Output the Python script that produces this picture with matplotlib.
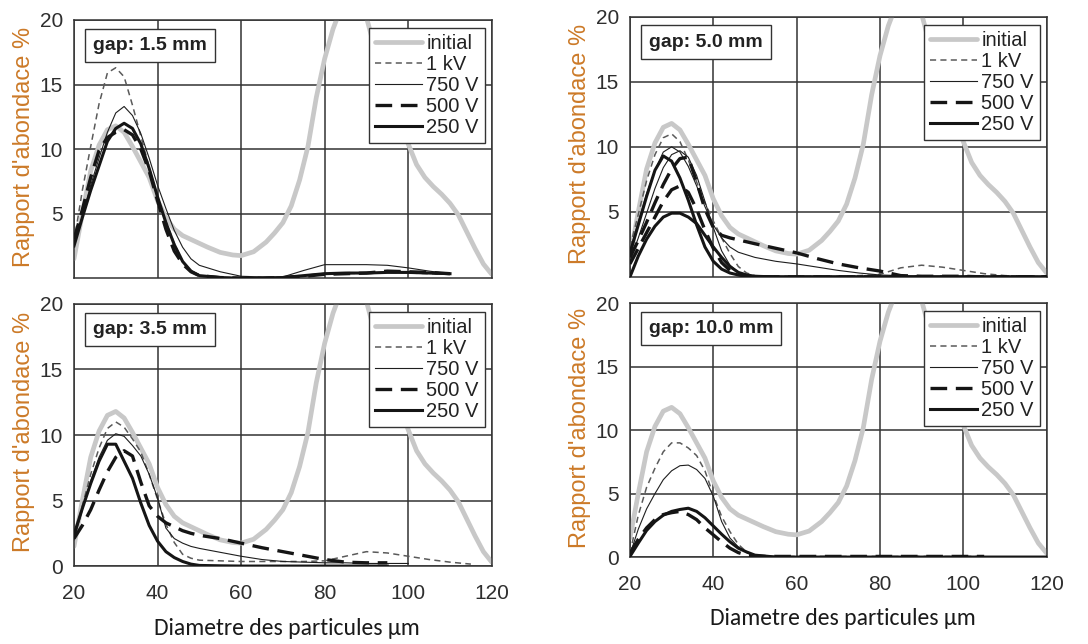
import numpy as np
import matplotlib
matplotlib.use("Agg")
import matplotlib.pyplot as plt

nan = np.nan

# particle diameter grid (µm) shared by the voltage curves
x_grid = [20, 22, 24, 26, 28, 30, 32, 34, 36, 38, 40, 42, 44, 46, 48, 50,
          55, 60, 65, 70, 75, 80, 85, 90, 95, 100, 105, 110, 115, 120]

# initial powder distribution (same in every panel)
x_init = [20, 22, 24, 26, 28, 30, 32, 34, 36, 38, 40, 42, 44, 46, 48, 50, 52, 55,
          58, 60, 63, 66, 68, 70, 72, 74, 76, 78, 80, 82, 84, 86, 88, 90, 92, 94,
          96, 98, 100, 102, 104, 106, 108, 110, 112, 114, 116, 118, 120]
y_init = [1.5, 5.0, 8.3, 10.3, 11.5, 11.8, 11.3, 10.2, 9.0, 7.8, 6.0, 4.7, 3.8, 3.3,
          3.0, 2.7, 2.4, 2.0, 1.8, 1.75, 2.05, 2.8, 3.5, 4.3, 5.6, 7.6, 10.2, 14.0,
          17.0, 19.3, 21.0, 22.0, 21.8, 20.2, 17.8, 15.8, 14.0, 12.2, 10.4, 8.8,
          7.8, 7.1, 6.5, 5.8, 4.9, 3.6, 2.3, 1.1, 0.3]

z16 = [0.0] * 14

# gap 1.5 mm
g15_1kv = [2.8, 6.8, 10.2, 13.5, 15.9, 16.3, 15.6, 13.4, 11.0, 8.6, 6.2, 4.4, 2.7, 1.3, 0.5, 0.2,
           0.05, 0.05, 0.05, 0.1, 0.2, 0.3, 0.35, 0.4, 0.45, 0.4, 0.35, 0.3, nan, nan]
g15_750 = [2.6, 4.8, 7.2, 9.3, 11.3, 12.8, 13.3, 12.6, 11.2, 9.3, 7.2, 5.4, 3.7, 2.4, 1.5, 1.0,
           0.5, 0.15, 0.1, 0.1, 0.6, 1.05, 1.05, 1.05, 1.0, 0.8, 0.55, 0.35, nan, nan]
g15_500 = [3.0, 5.3, 7.8, 9.9, 10.9, 11.3, 11.5, 11.1, 10.0, 8.3, 6.0, 3.8, 2.1, 1.1, 0.5, 0.2,
           0.05, 0.0, 0.0, 0.05, 0.15, 0.3, 0.35, 0.4, 0.55, 0.5, 0.45, 0.35, nan, nan]
g15_250 = [2.5, 4.7, 6.8, 8.7, 10.6, 11.6, 12.0, 11.6, 10.4, 8.5, 6.3, 4.3, 2.6, 1.3, 0.55, 0.2,
           0.05, 0.0, 0.0, 0.05, 0.2, 0.35, 0.4, 0.4, 0.45, 0.45, 0.4, 0.35, nan, nan]

# gap 5.0 mm (two runs for some voltages)
g50_1kv = [2.3, 4.8, 7.4, 9.4, 10.7, 11.0, 10.4, 9.0, 7.3, 5.7, 4.3, 3.0, 1.8, 0.8, 0.3, 0.1,
           0.05, 0.05, 0.05, 0.05, 0.1, 0.2, 0.7, 0.9, 0.75, 0.5, 0.25, 0.1, 0.05, 0.0]
g50_750a = [2.0, 4.2, 6.4, 8.2, 9.6, 10.0, 9.6, 8.5, 7.0, 5.4, 4.0, 3.0, 2.3, 1.9, 1.7, 1.5,
            1.2, 1.0, 0.75, 0.5, 0.3, 0.15, 0.1, 0.05, 0.05, 0.05, 0.0, 0.0, 0.0, 0.0]
g50_750b = [1.2, 3.0, 4.9, 6.8, 8.4, 9.4, 9.7, 9.2, 7.8, 5.8, 3.8, 2.0, 0.9, 0.35, 0.1, 0.05] + z16
g50_500a = [1.5, 2.8, 4.2, 5.7, 7.1, 8.3, 9.1, 9.2, 7.3, 5.2, 3.8, 3.2, 3.0, 2.85, 2.7, 2.55,
            2.2, 1.85, 1.4, 1.0, 0.7, 0.45, 0.1, 0.05, 0.05, 0.05, 0.0, 0.0, 0.0, 0.0]
g50_500b = [1.0, 2.2, 3.4, 4.6, 5.8, 6.7, 7.0, 6.5, 5.2, 3.6, 2.2, 1.1, 0.5, 0.2, 0.05, 0.0] + z16
g50_250a = [1.8, 4.0, 6.2, 8.2, 9.3, 8.9, 7.6, 5.9, 4.0, 2.3, 1.2, 0.6, 0.3, 0.15, 0.05, 0.0] + z16
g50_250b = [0.0, 1.6, 2.9, 3.9, 4.6, 4.9, 4.9, 4.6, 4.1, 3.2, 2.3, 1.5, 0.8, 0.35, 0.15, 0.05] + z16

# gap 3.5 mm
g35_1kv = [2.2, 4.6, 7.0, 9.0, 10.5, 11.0, 10.6, 9.7, 8.7, 7.0, 5.1, 3.2, 1.8, 0.9, 0.6, 0.45,
           0.4, 0.35, 0.35, 0.35, 0.35, 0.4, 0.75, 1.1, 1.0, 0.75, 0.5, 0.3, 0.15, nan]
g35_750 = [2.0, 4.3, 6.5, 8.3, 9.6, 10.1, 9.9, 9.2, 8.4, 7.0, 5.2, 2.9, 2.1, 1.75, 1.5, 1.35,
           1.05, 0.75, 0.5, 0.35, 0.3, 0.25, 0.25, 0.2, 0.2, 0.2, nan, nan, nan, nan]
g35_500 = [2.1, 3.1, 4.3, 5.8, 7.2, 8.3, 8.8, 8.4, 6.4, 4.6, 3.8, 3.3, 3.0, 2.7, 2.5, 2.35,
           2.1, 1.75, 1.4, 1.1, 0.8, 0.5, 0.3, 0.25, 0.25, nan, nan, nan, nan, nan]
g35_250 = [2.4, 4.4, 6.3, 8.0, 9.3, 9.3, 8.0, 6.7, 4.8, 3.1, 1.9, 1.1, 0.65, 0.35, 0.15, 0.05,
           0.02, 0.0, 0.0, 0.0, 0.0, 0.0, 0.0, 0.0, 0.0, nan, nan, nan, nan, nan]

# gap 10.0 mm
g100_1kv = [0.3, 3.3, 5.5, 7.0, 8.3, 9.0, 9.0, 8.6, 8.0, 6.8, 4.9, 3.2, 2.0, 1.0, 0.4, 0.15,
            0.05, 0.05, 0.05, 0.05, 0.05, 0.05, 0.05, 0.05, 0.05, 0.05, 0.05, nan, nan, nan]
g100_750 = [0.2, 2.2, 3.8, 5.0, 6.1, 6.8, 7.2, 7.25, 6.9, 6.2, 4.8, 2.8, 1.5, 0.8, 0.35, 0.1] + z16
g100_500 = [0.3, 1.4, 2.3, 2.95, 3.35, 3.5, 3.6, 3.35, 2.95, 2.3, 1.75, 1.2, 0.7, 0.35, 0.15, 0.05,
            0.05, 0.05, 0.05, 0.05, 0.05, 0.05, 0.05, 0.05, 0.05, 0.05, 0.05, nan, nan, nan]
g100_250 = [0.05, 1.1, 2.1, 2.8, 3.3, 3.6, 3.75, 3.85, 3.6, 3.1, 2.45, 1.8, 1.2, 0.7, 0.4, 0.15] + z16

labels = ["1 kV", "750 V", "500 V", "250 V"]

# line styles per voltage
styles = {
    "1 kV": dict(color="#5a5a5a", lw=1.1, ls=(0, (4.0, 2.8))),
    "750 V": dict(color="#1e1e1e", lw=0.8, ls="-"),
    "500 V": dict(color="#151515", lw=2.4, ls=(0, (5.0, 2.6))),
    "250 V": dict(color="#151515", lw=2.2, ls="-"),
}

panels = [
    ("gap: 1.5 mm", [0.068, 0.568, 0.384, 0.401], False,
     {"1 kV": [g15_1kv], "750 V": [g15_750], "500 V": [g15_500], "250 V": [g15_250]}),
    ("gap: 5.0 mm", [0.579, 0.570, 0.383, 0.404], False,
     {"1 kV": [g50_1kv], "750 V": [g50_750a, g50_750b], "500 V": [g50_500a, g50_500b],
      "250 V": [g50_250a, g50_250b]}),
    ("gap: 3.5 mm", [0.068, 0.121, 0.384, 0.407], True,
     {"1 kV": [g35_1kv], "750 V": [g35_750], "500 V": [g35_500], "250 V": [g35_250]}),
    ("gap: 10.0 mm", [0.579, 0.135, 0.383, 0.394], True,
     {"1 kV": [g100_1kv], "750 V": [g100_750], "500 V": [g100_500], "250 V": [g100_250]}),
]

tick_font = ["Liberation Sans Narrow", "Liberation Sans", "DejaVu Sans"]
grid_col = "#333333"

fig = plt.figure(figsize=(10.88, 6.44), dpi=100)

for title, rect, bottom_row, series in panels:
    ax = fig.add_axes(rect)
    ax.set_axisbelow(True)
    ax.plot(x_init, y_init, color="#c8c8c8", lw=3.4, solid_capstyle="round", label="initial", zorder=2)
    for lab in labels:
        for i, yv in enumerate(series[lab]):
            ax.plot(x_grid, yv, label=lab if i == 0 else None, zorder=3, **styles[lab])

    ax.set_xlim(20, 120)
    ax.set_ylim(0, 20)
    ax.set_xticks([20, 40, 60, 80, 100, 120])
    ax.set_yticks([0, 5, 10, 15, 20] if bottom_row else [5, 10, 15, 20])
    ax.grid(True, color=grid_col, lw=1.1)
    for sp in ax.spines.values():
        sp.set_color(grid_col)
        sp.set_linewidth(1.1)
    ax.tick_params(length=0, labelsize=15, labelcolor="#2e2e2e")
    ax.tick_params(axis="y", pad=8)
    ax.tick_params(axis="x", pad=13)
    for t in ax.get_xticklabels() + ax.get_yticklabels():
        t.set_family(tick_font)
    if not bottom_row:
        ax.tick_params(axis="x", labelbottom=False)
    else:
        ax.set_xlabel("Diametre des particules µm", fontsize=17, color="#1a1a1a",
                      family=["Carlito", "Lato", "DejaVu Sans"])
        ax.xaxis.set_label_coords(0.51, -0.2)
        ax.xaxis.label.set_va("top")

    ax.set_ylabel("Rapport d'abondace %", fontsize=17, color="#cc7a28",
                  family=["Liberation Sans", "DejaVu Sans"])
    ax.yaxis.set_label_coords(-0.094, 0.51)

    ax.text(0.045, 0.935, title, transform=ax.transAxes, ha="left", va="top",
            fontsize=14, fontweight="bold", color="#222222",
            family=["Liberation Sans", "DejaVu Sans"],
            bbox=dict(boxstyle="square,pad=0.42", fc="white", ec=grid_col, lw=1.0), zorder=5)

    leg = ax.legend(loc="upper right", bbox_to_anchor=(0.983, 0.969), borderaxespad=0,
                    fancybox=False, framealpha=1, edgecolor=grid_col,
                    prop=dict(family=tick_font, size=14.5), handlelength=2.35,
                    handletextpad=0.2, labelspacing=0.1, borderpad=0.3)
    leg.get_frame().set_linewidth(1.0)
    for t in leg.get_texts():
        t.set_color("#222222")

fig.savefig("out.png", dpi=100)
